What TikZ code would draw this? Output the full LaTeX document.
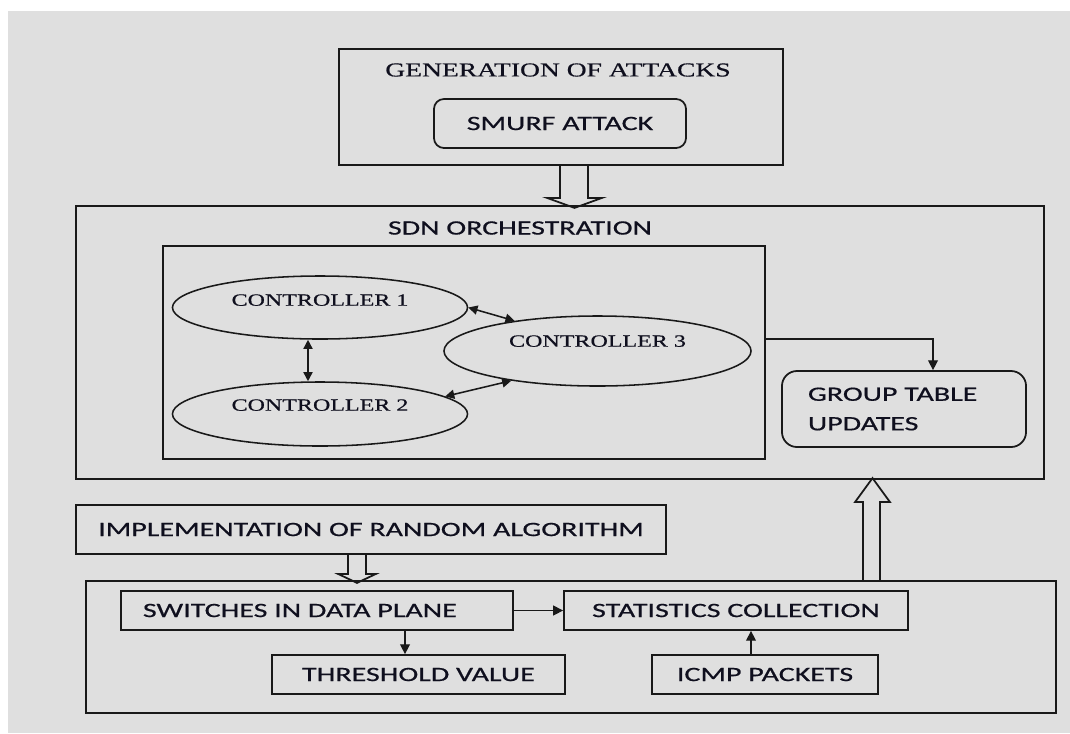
\documentclass[tikz,border=0pt]{standalone}
\usepackage{fontspec}
\setmainfont{Carlito}[FakeStretch=1.47,FakeBold=0.6]
\newfontfamily\tnr{Liberation Serif}[FakeStretch=1.4,FakeBold=0.6]
\usepackage{xcolor}
\usepackage{tikz}
\usetikzlibrary{shapes,arrows.meta,positioning,calc}
\definecolor{bggray}{RGB}{223,223,223}
\definecolor{ink}{RGB}{15,15,30}

\begin{document}
\begin{tikzpicture}[x=0.025cm, y=-0.025cm,
    box/.style={draw=black!90, line width=1.25pt, rectangle, inner sep=0pt,
        font=\fontsize{14.5}{21}\selectfont, text=ink},
    rbox/.style={box, rounded corners=0.25cm},
    ctrl/.style={draw=black!90, line width=1.1pt, ellipse, inner sep=0pt,
        font=\tnr\fontsize{12.2}{15}\selectfont, text=ink},
    boxtitle/.style={inner sep=0pt, text=ink},
    arr/.style={-{Triangle[length=7pt,width=7pt]}, line width=1pt, black!90},
    dbl/.style={{Triangle[length=6.5pt,width=6.5pt]}-{Triangle[length=6.5pt,width=6.5pt]}, line width=1.1pt, black!90},
    hollow/.style={draw=black!90, line width=1.25pt, line join=miter}]

    % Background
    \fill[white] (0,0) rectangle (1070,733);
    \fill[bggray] (8,11) rectangle (1070,733);
    \useasboundingbox (0,0) rectangle (1070,733);

    % Generation of attacks
    \node[box, minimum width=11.1cm, minimum height=2.9cm] (gen) at (561,107) {};
    \node[boxtitle, font=\tnr\fontsize{14}{17}\selectfont] (gentitle) at (558,70) {GENERATION OF ATTACKS};
    \node[rbox, minimum width=6.3cm, minimum height=1.225cm] (smurf) at (560,123.5) {SMURF ATTACK};

    % SDN orchestration
    \node[box, minimum width=24.2cm, minimum height=6.825cm] (sdn) at (560,342.5) {};
    \node[boxtitle, font=\fontsize{14.5}{21}\selectfont] (sdntitle) at (520,228) {SDN ORCHESTRATION};
    \node[box, minimum width=15.05cm, minimum height=5.325cm] (ctrlbox) at (464,352.5) {};
    \node[ctrl, minimum width=7.375cm, minimum height=1.575cm, text depth=0.375cm] (ctrl1) at (320,307.5) {CONTROLLER 1};
    \node[ctrl, minimum width=7.375cm, minimum height=1.6cm, text depth=0.45cm] (ctrl2) at (320,414) {CONTROLLER 2};
    \node[ctrl, minimum width=7.675cm, minimum height=1.75cm, text depth=0.5cm] (ctrl3) at (597.5,351) {CONTROLLER 3};
    \node[rbox, rounded corners=0.375cm, minimum width=6.1cm, minimum height=1.9cm,
        text width=4.8cm, inner xsep=0.65cm, align=left] (grp) at (904,409) {GROUP TABLE\\UPDATES};

    % Controller links
    \draw[dbl] ($(ctrl1.south)+(-12,0)$) -- ($(ctrl2.north)+(-12,0)$);
    \draw[dbl] (ctrl1.east) -- (ctrl3.160);
    \draw[dbl] (ctrl2.8) -- (ctrl3.199);
    \draw[arr] ($(ctrlbox.east)+(0,-13.5)$) -| ($(grp.north)+(29,0)$);

    % Data plane
    \node[box, minimum width=14.75cm, minimum height=1.225cm] (impl) at (371,529.5) {IMPLEMENTATION OF RANDOM ALGORITHM};
    \node[box, minimum width=24.25cm, minimum height=3.3cm] (dp) at (571,647) {};
    \node[box, minimum width=9.8cm, minimum height=0.975cm, text width=8.7cm,
        inner xsep=0.55cm, align=left] (sw) at (317,610.5) {SWITCHES IN DATA PLANE};
    \node[box, minimum width=7.325cm, minimum height=0.975cm] (thr) at (418.5,674.5) {THRESHOLD VALUE};
    \node[box, minimum width=8.6cm, minimum height=0.975cm] (stats) at (736,610.5) {STATISTICS COLLECTION};
    \node[box, minimum width=5.65cm, minimum height=0.975cm] (icmp) at (765,674.5) {ICMP PACKETS};

    \draw[arr] ($(sw.south)+(88,0)$) coordinate (s1) -- (s1 |- thr.north);
    \draw[arr] (sw.east) -- (stats.west);
    \draw[arr] ($(icmp.north)+(-14,0)$) coordinate (i1) -- (i1 |- stats.south);

    % Block arrows
    \draw[hollow] (gen.south) ++(-1,0) -- ++(0,32) -- ++(-13,0) -- ++(27.5,10) -- ++(27.5,-10) -- ++(-14,0) -- ++(0,-32);
    \draw[hollow] (impl.south) ++(-23,0) -- ++(0,19) -- ++(-10,0) -- ++(19,9) -- ++(19,-9) -- ++(-10,0) -- ++(0,-19);
    \draw[hollow] (dp.north) ++(292,0) -- ++(0,-78) -- ++(-8,0) -- ++(17.5,-24) -- ++(17.5,24) -- ++(-10,0) -- ++(0,78);
\end{tikzpicture}
\end{document}
